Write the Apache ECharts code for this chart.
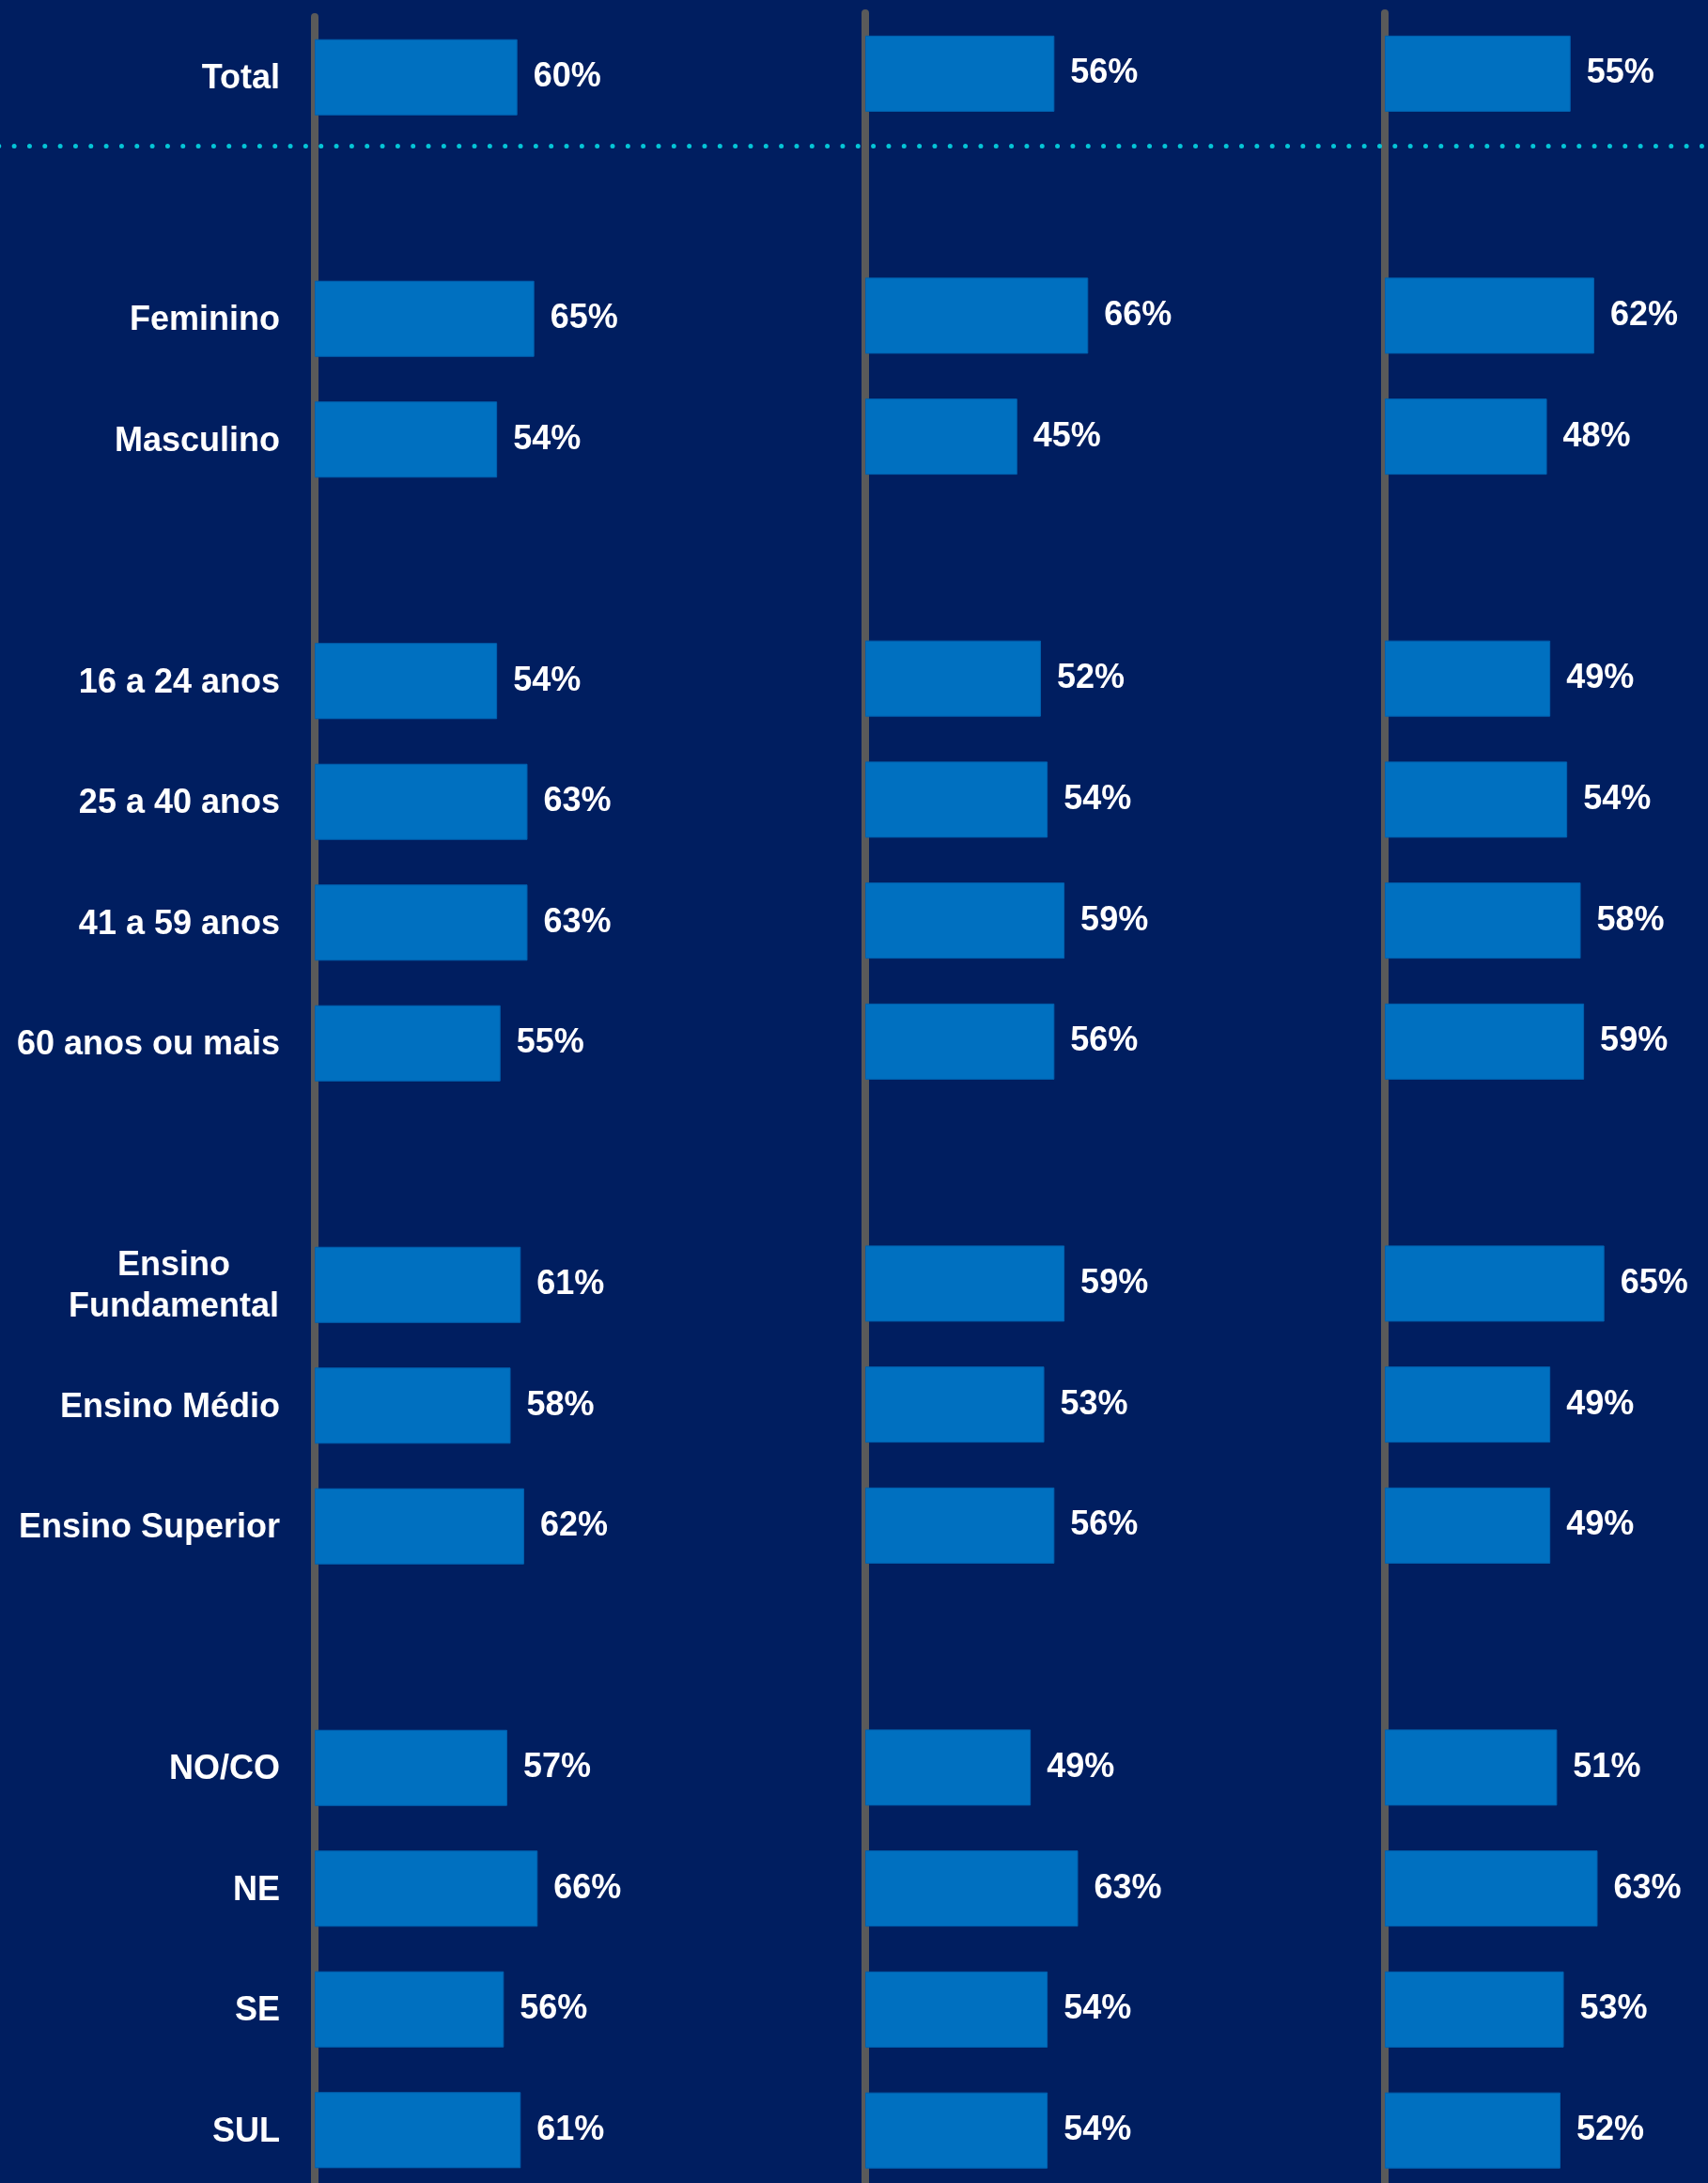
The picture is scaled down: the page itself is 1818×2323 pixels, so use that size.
<!DOCTYPE html>
<html>
<head>
<meta charset="utf-8">
<script src="https://cdn.jsdelivr.net/npm/echarts@6/dist/echarts.min.js"></script>
<style>
  html, body { margin: 0; padding: 0; background: #001e60; }
  #chart { width: 1818px; height: 2323px; }
</style>
</head>
<body>
<div id="chart"></div>
<script>
// linhas (vazias = espaço entre grupos)
const categories = [
  'Total', '',
  'Feminino', 'Masculino', '',
  '16 a 24 anos', '25 a 40 anos', '41 a 59 anos', '60 anos ou mais', '',
  'Ensino\nFundamental', 'Ensino Médio', 'Ensino Superior', '',
  'NO/CO', 'NE', 'SE', 'SUL'
]
const values1 = [60, null, 65, 54, null, 54, 63, 63, 55, null, 61, 58, 62, null, 57, 66, 56, 61]
const values2 = [56, null, 66, 45, null, 52, 54, 59, 56, null, 59, 53, 56, null, 49, 63, 54, 54]
const values3 = [55, null, 62, 48, null, 49, 54, 58, 59, null, 65, 49, 49, null, 51, 63, 53, 52]

const font = '"Liberation Sans", Arial, sans-serif'
const barColor = '#0070c0'
const axisGray = '#5a5a5a'

const panels = [
  { left: 335, top: 18, height: 2313, data: values1, labels: true },
  { left: 921, top: 14, height: 2317.5, data: values2, labels: false },
  { left: 1474, top: 14, height: 2317.5, data: values3, labels: false }
]

const chart = echarts.init(document.getElementById('chart'))

const option = {
  backgroundColor: '#001e60',
  animation: false,
  grid: panels.map(p => ({
    left: p.left, top: p.top, width: 359.5, height: p.height,
    outerBoundsMode: 'none'
  })),
  xAxis: panels.map((p, i) => ({
    type: 'value', gridIndex: i, min: 0, max: 100, show: false
  })),
  yAxis: panels.map((p, i) => ({
    type: 'category',
    gridIndex: i,
    inverse: true,
    data: categories,
    offset: 4,
    axisLine: { show: true, lineStyle: { color: axisGray, width: 8 } },
    axisTick: { show: false },
    splitLine: { show: false },
    axisLabel: {
      show: p.labels,
      interval: 0,
      margin: 33,
      color: '#fff',
      fontFamily: font,
      fontWeight: 'bold',
      fontSize: 36,
      lineHeight: 44,
      padding: [4, 0, 0, 0],
      formatter: function (v) {
        if (v.indexOf('\n') < 0) return v
        return v.split('\n').map(s => '{c|' + s + '}').join('\n')
      },
      rich: {
        c: {
          width: 226, align: 'center', color: '#fff', fontFamily: font,
          fontWeight: 'bold', fontSize: 36, lineHeight: 44
        }
      }
    }
  })),
  series: panels.map((p, i) => ({
    type: 'bar',
    xAxisIndex: i,
    yAxisIndex: i,
    data: p.data,
    barWidth: 81,
    itemStyle: { color: barColor, borderColor: '#0062b0', borderWidth: 1 },
    label: {
      show: true,
      position: 'right',
      distance: 17,
      color: '#fff',
      fontFamily: font,
      fontWeight: 'bold',
      fontSize: 36,
      padding: [4, 0, 0, 0],
      formatter: d => d.value + '%'
    }
  }))
}

chart.setOption(option)

// linha pontilhada abaixo do Total
const yTotal = chart.convertToPixel({ yAxisIndex: 0 }, 0)
const yNext = chart.convertToPixel({ yAxisIndex: 0 }, 1)
const ySep = yTotal + (yNext - yTotal) * 0.57
chart.setOption({
  graphic: [{
    type: 'line',
    z: 100,
    shape: { x1: -1.2, y1: ySep, x2: 1818, y2: ySep },
    style: { stroke: '#05c5d6', lineWidth: 5, lineDash: [0, 16.33], lineCap: 'round' }
  }]
})
</script>
</body>
</html>
